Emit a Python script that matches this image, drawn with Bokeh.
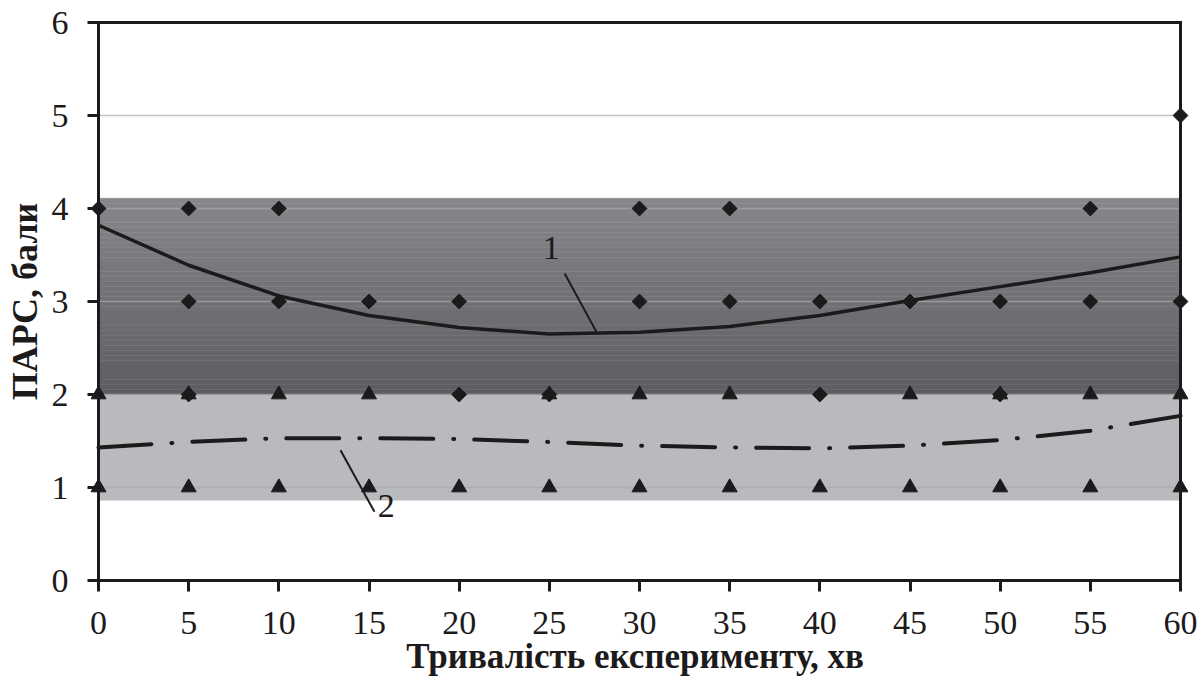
import numpy as np
from bokeh.plotting import figure
from bokeh.models import FixedTicker, Range1d
from bokeh.core.properties import value
from bokeh.embed import file_html
from bokeh.resources import INLINE

# ---------------- data ----------------
x_ticks = [0, 5, 10, 15, 20, 25, 30, 35, 40, 45, 50, 55, 60]
y_ticks = [0, 1, 2, 3, 4, 5, 6]
x_lim = (0, 60)
y_lim = (0, 6)

# series 1 (diamonds)
diam_x = [0, 5, 5, 5, 10, 10, 15, 20, 20, 25, 30, 30, 35, 35, 40, 40, 45, 50, 50, 55, 55, 60, 60]
diam_y = [4, 4, 3, 2, 4, 3, 3, 3, 2, 2, 4, 3, 4, 3, 3, 2, 3, 3, 2, 4, 3, 5, 3]

# series 2 (triangles)
tri_x = [0, 5, 10, 15, 25, 30, 35, 45, 50, 55, 60,
         0, 5, 10, 15, 20, 25, 30, 35, 40, 45, 50, 55, 60]
tri_y = [2, 2, 2, 2, 2, 2, 2, 2, 2, 2, 2,
         1, 1, 1, 1, 1, 1, 1, 1, 1, 1, 1, 1, 1]

# trend curves
trend_x = [0, 5, 10, 15, 20, 25, 30, 35, 40, 45, 50, 55, 60]
trend1_y = [3.82, 3.39, 3.06, 2.85, 2.72, 2.65, 2.67, 2.73, 2.85, 3.01, 3.16, 3.31, 3.48]
trend2_y = [1.43, 1.49, 1.53, 1.53, 1.52, 1.49, 1.45, 1.43, 1.42, 1.45, 1.51, 1.61, 1.77]

# zones
dark_zone = (2.0, 4.11)
light_zone = (0.86, 2.0)

# curve labels and leaders
label_text = ["1", "2"]
label_x = [25.1, 15.95]
label_y = [3.57, 0.8]
leader_x0 = [25.85, 13.42]
leader_y0 = [3.30, 1.40]
leader_x1 = [27.65, 15.30]
leader_y1 = [2.66, 0.74]

# ---------------- figure ----------------
SERIF = "Liberation Serif"
INK = "#1c1a1b"
PAD_PX = 8  # frame padding (px) so that markers on the box edges are not cut

pad_x = PAD_PX * (x_lim[1] - x_lim[0]) / 1082
pad_y = PAD_PX * (y_lim[1] - y_lim[0]) / 558

p = figure(width=1201, height=688,
           x_range=Range1d(x_lim[0] - pad_x, x_lim[1] + pad_x),
           y_range=Range1d(y_lim[0] - pad_y, y_lim[1] + pad_y),
           output_backend="svg", toolbar_location=None,
           min_border_left=90, min_border_right=13,
           min_border_top=14, min_border_bottom=100)
p.background_fill_color = "white"
p.border_fill_color = "white"
p.outline_line_color = None
p.grid.visible = False

# light zone
p.quad(left=[x_lim[0]], right=[x_lim[1]], bottom=[light_zone[0]], top=[light_zone[1]],
       fill_color="#b9babe", line_color=None)

# dark zone with vertical gradient (strips)
n = 40
edges = np.linspace(dark_zone[0], dark_zone[1], n + 1)
top_rgb = np.array([0x87, 0x88, 0x8c])
bot_rgb = np.array([0x5d, 0x5d, 0x62])
cols = []
for i in range(n):
    t = (i + 0.5) / n
    c = (bot_rgb * (1 - t) + top_rgb * t).astype(int)
    cols.append("#%02x%02x%02x" % tuple(c))
p.quad(left=[x_lim[0]] * n, right=[x_lim[1]] * n, bottom=edges[:-1], top=edges[1:],
       fill_color=cols, line_color=cols, line_width=0.5)

# grid lines drawn over the zones
grid_y = [t for t in y_ticks if y_lim[0] < t < y_lim[1]]
p.segment(x0=[x_lim[0]] * len(grid_y), x1=[x_lim[1]] * len(grid_y), y0=grid_y, y1=grid_y,
          line_color="#a7a7ae", line_alpha=0.72, line_width=1.5)

# trend lines
p.line(trend_x, trend1_y, line_color=INK, line_width=3.5)
p.line(trend_x, trend2_y, line_color=INK, line_width=4,
       line_dash="53 20 1 20", line_cap="round")

# markers
p.scatter(diam_x, diam_y, marker="square", angle=np.pi / 4, size=10.5,
          fill_color=INK, line_color=INK)
p.scatter(tri_x, tri_y, marker="triangle", size=15,
          fill_color=INK, line_color=INK)

# box around the data area (axis lines + top/right sides)
p.segment(x0=[x_lim[0], x_lim[0], x_lim[0], x_lim[1]],
          y0=[y_lim[0], y_lim[0], y_lim[1], y_lim[0]],
          x1=[x_lim[1], x_lim[0], x_lim[1], x_lim[1]],
          y1=[y_lim[0], y_lim[1], y_lim[1], y_lim[1]],
          line_color=INK, line_width=3, line_cap="square")

# labels and leaders
p.segment(x0=leader_x0, y0=leader_y0, x1=leader_x1, y1=leader_y1,
          line_color=INK, line_width=2)
p.text(x=label_x, y=label_y, text=label_text, text_font=value(SERIF),
       text_font_size=value("34px"), text_color=INK,
       text_align="center", text_baseline="middle")

# axes (drawn on the padded frame edge; ticks reach in to the box)
for ax in (p.xaxis[0], p.yaxis[0]):
    ax.axis_line_color = None
    ax.major_tick_line_color = INK
    ax.major_tick_line_width = 3
    ax.major_tick_out = 3
    ax.major_tick_in = PAD_PX
    ax.minor_tick_line_color = None
    ax.major_label_text_font = SERIF
    ax.major_label_text_font_size = "34px"
    ax.major_label_text_color = INK
    ax.axis_label_text_font = SERIF
    ax.axis_label_text_font_style = "bold"
    ax.axis_label_text_color = INK

p.xaxis.ticker = FixedTicker(ticks=x_ticks)
p.yaxis.ticker = FixedTicker(ticks=y_ticks)
p.xaxis.major_label_standoff = 20
p.yaxis.major_label_standoff = 19
p.xaxis.axis_label = "Тривалість  експерименту, хв"
p.yaxis.axis_label = "ПАРС, бали"
p.xaxis.axis_label_text_font_size = "35px"
p.yaxis.axis_label_text_font_size = "36px"
p.xaxis.axis_label_standoff = 0
p.yaxis.axis_label_standoff = 4

open("out.html", "w").write(file_html(p, INLINE))
